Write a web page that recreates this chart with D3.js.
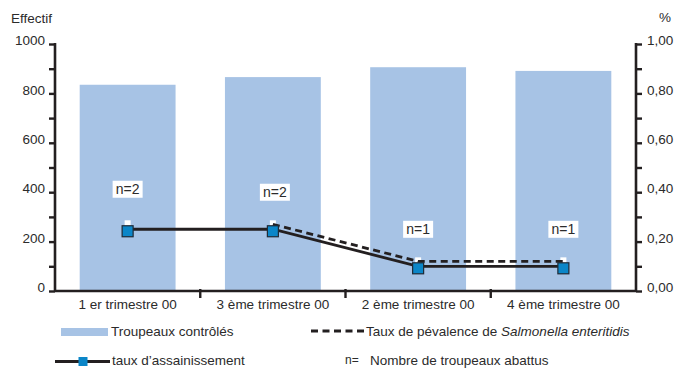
<!DOCTYPE html>
<html>
<head>
<meta charset="utf-8">
<script src="https://cdn.jsdelivr.net/npm/d3@7"></script>
<style>
  html, body { margin: 0; padding: 0; background: #fff; }
  svg text { font-family: "Liberation Sans", Arial, sans-serif; fill: #2b2b2b; }
</style>
</head>
<body>
<svg id="chart" width="677" height="369"></svg>
<script>
// Quarters, in display order
const categories = ["1 er trimestre 00", "3 ème trimestre 00", "2 ème trimestre 00", "4 ème trimestre 00"];
// Controlled flocks (left axis, count)
const troupeaux = [835, 866, 906, 891];
// Sanitation rate (right axis, fraction)
const assainissement = [0.25, 0.25, 0.10, 0.10];
// Salmonella enteritidis prevalence (right axis, fraction)
const prevalence = [0.27, 0.27, 0.12, 0.12];
// Number of slaughtered flocks
const abattus = [2, 2, 1, 1];
// Axis ticks
const leftTicks = d3.range(0, 1001, 100);
const leftLabels = [0, 200, 400, 600, 800, 1000];
const rightTicks = d3.range(0, 11).map(i => i / 10);
const rightLabels = [0, 0.2, 0.4, 0.6, 0.8, 1.0];

const ink = "#231f20";
const barColor = "#a7c3e5";
const markerColor = "#0b86c8";

const svg = d3.select("#chart");
const x0 = 55, x1 = 636, yTop = 44, yBot = 291;

const x = d3.scaleBand().domain(categories).range([x0, x1]).paddingInner(0.34).paddingOuter(0.17);
const xc = d => x(d) + x.bandwidth() / 2;
const yL = d3.scaleLinear().domain([0, 1000]).range([yBot, yTop]);
const yR = d3.scaleLinear().domain([0, 1]).range([yBot, yTop]);

const fr = d3.formatLocale({decimal: ",", thousands: " ", grouping: [3], currency: ["", "€"]});
const fmtR = fr.format(".2f");

// Bars
svg.append("g").selectAll("rect").data(categories).join("rect")
  .attr("x", d => x(d)).attr("width", x.bandwidth())
  .attr("y", (d, i) => yL(troupeaux[i])).attr("height", (d, i) => yBot - yL(troupeaux[i]))
  .attr("fill", barColor);

// Left axis
const gl = svg.append("g").attr("transform", `translate(${x0},0)`)
  .call(d3.axisLeft(yL).tickValues(leftTicks).tickSize(6).tickPadding(4)
    .tickFormat(d => leftLabels.includes(d) ? d : ""));
// Right axis
const gr = svg.append("g").attr("transform", `translate(${x1},0)`)
  .call(d3.axisRight(yR).tickValues(rightTicks).tickSize(6).tickPadding(5)
    .tickFormat(d => rightLabels.some(v => Math.abs(v - d) < 1e-9) ? fmtR(d) : ""));
[gl, gr].forEach(g => {
  g.select(".domain").attr("stroke", ink).attr("stroke-width", 2.6)
    .attr("d", `M0,${yTop - 1}V${yBot}`);
  g.selectAll(".tick line").attr("stroke", ink).attr("stroke-width", 2.4);
  g.selectAll(".tick text").attr("font-size", 13.5).attr("dy", "0.05em")
    .attr("font-family", "Liberation Sans, Arial, sans-serif").attr("fill", "#2b2b2b");
});

// Bottom axis
const gb = svg.append("g").attr("transform", `translate(0,${yBot})`)
  .call(d3.axisBottom(x).tickSize(0).tickPadding(8));
gb.select(".domain").attr("stroke", ink).attr("stroke-width", 2.6).attr("d", `M${x0},0H${x1}`);
gb.selectAll(".tick text").attr("font-size", 13.5)
  .attr("font-family", "Liberation Sans, Arial, sans-serif").attr("fill", "#2b2b2b");
// Separators between quarters
const bounds = categories.slice(1).map(c => x(c) - x.step() * x.paddingInner() / 2);
gb.selectAll("line.sep").data(bounds).join("line").attr("class", "sep")
  .attr("x1", d => d).attr("x2", d => d).attr("y1", -2).attr("y2", 7)
  .attr("stroke", ink).attr("stroke-width", 2.4);

// Axis titles
svg.append("text").attr("x", 11).attr("y", 23).attr("font-size", 13.5).text("Effectif");
svg.append("text").attr("x", 659).attr("y", 22).attr("font-size", 13.5).text("%");

// Prevalence: white markers and dashed line
svg.append("g").selectAll("rect").data(categories).join("rect")
  .attr("x", d => xc(d) - 3).attr("y", (d, i) => yR(prevalence[i]) - 4)
  .attr("width", 6).attr("height", 6).attr("fill", "#fff");
const lineGen = d3.line().x(d => xc(d.c)).y(d => yR(d.v));
const prevPts = categories.map((c, i) => ({c, v: prevalence[i]})).slice(1);
svg.append("path").datum(prevPts).attr("d", lineGen)
  .attr("fill", "none").attr("stroke", ink).attr("stroke-width", 2.8).attr("stroke-dasharray", "7,4.5");

// Sanitation rate: solid line with blue square markers
const assPts = categories.map((c, i) => ({c, v: assainissement[i]}));
svg.append("path").datum(assPts).attr("d", lineGen)
  .attr("fill", "none").attr("stroke", ink).attr("stroke-width", 2.8);
svg.append("g").selectAll("rect").data(assPts).join("rect")
  .attr("x", d => xc(d.c) - 5.5).attr("y", d => yR(d.v) - 3.5)
  .attr("width", 11).attr("height", 11)
  .attr("fill", markerColor).attr("stroke", "#1f2a36").attr("stroke-width", 1.2);

// n= labels
const lab = svg.append("g").selectAll("g").data(assPts).join("g")
  .attr("transform", (d, i) => `translate(${xc(d.c) + (i === 1 ? 2 : 0)},${yR(d.v) - (i === 0 ? 40 : 37)})`);
lab.append("rect").attr("x", -15).attr("y", -8.5).attr("width", 30).attr("height", 17).attr("fill", "#fff");
lab.append("text").attr("text-anchor", "middle").attr("dy", "0.36em").attr("font-size", 14)
  .text((d, i) => `n=${abattus[i]}`);

// Legend
const lg = svg.append("g");
lg.append("rect").attr("x", 61).attr("y", 328).attr("width", 47).attr("height", 8).attr("fill", barColor);
lg.append("text").attr("x", 111).attr("y", 331).attr("dy", "0.35em").attr("font-size", 13.5).text("Troupeaux contrôlés");

lg.append("line").attr("x1", 311).attr("x2", 364).attr("y1", 331).attr("y2", 331)
  .attr("stroke", ink).attr("stroke-width", 2.8).attr("stroke-dasharray", "7,4.5");
const t2 = lg.append("text").attr("x", 366).attr("y", 331).attr("dy", "0.35em").attr("font-size", 13.5);
t2.append("tspan").text("Taux de pévalence de ");
t2.append("tspan").attr("font-style", "italic").text("Salmonella enteritidis");

lg.append("line").attr("x1", 55).attr("x2", 110).attr("y1", 361.5).attr("y2", 361.5)
  .attr("stroke", ink).attr("stroke-width", 2.8);
lg.append("rect").attr("x", 78.5).attr("y", 357).attr("width", 9).attr("height", 9).attr("fill", markerColor);
lg.append("text").attr("x", 112).attr("y", 360).attr("dy", "0.35em").attr("font-size", 13.5).text("taux d’assainissement");

lg.append("text").attr("x", 345).attr("y", 360).attr("dy", "0.35em").attr("font-size", 12).text("n=");
lg.append("text").attr("x", 370).attr("y", 360).attr("dy", "0.35em").attr("font-size", 13.5).text("Nombre de troupeaux abattus");
</script>
</body>
</html>
